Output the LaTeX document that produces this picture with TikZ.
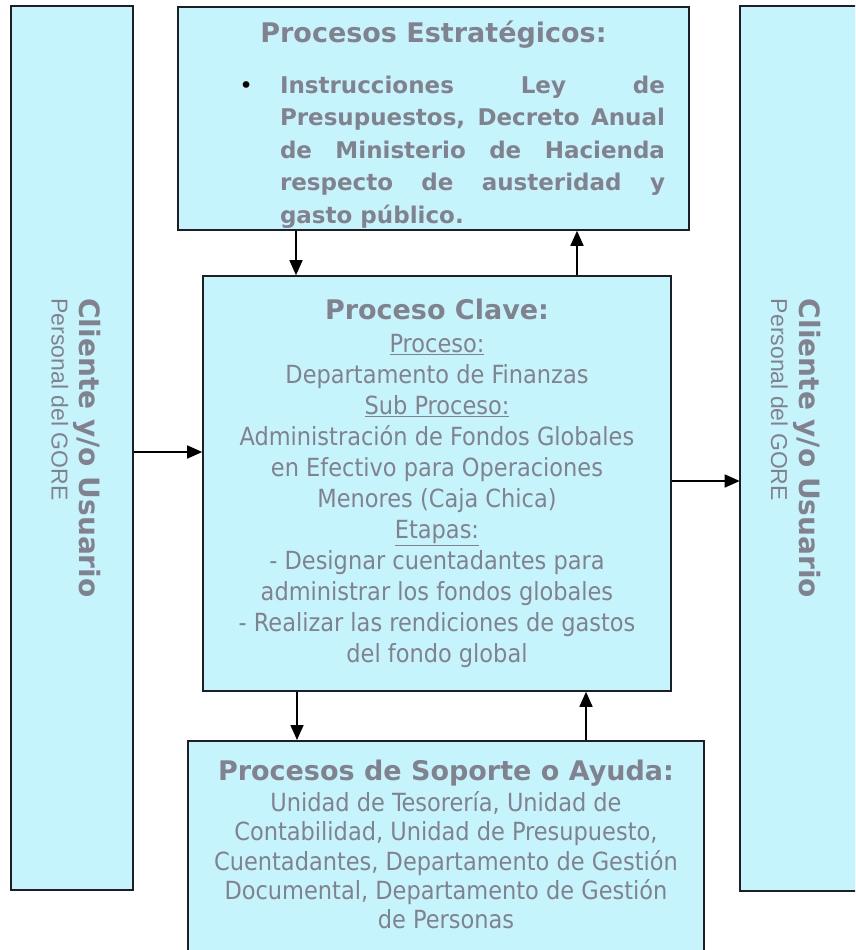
\documentclass[tikz,border=0pt]{standalone}
\usepackage{fontspec}
\usepackage{graphicx}
\usetikzlibrary{arrows.meta}
\setmainfont{DejaVu Sans Condensed}
\newfontfamily\titlefont{DejaVu Sans}
\newfontfamily\sidefont{Liberation Sans}
\definecolor{boxfill}{RGB}{198,244,252}
\definecolor{boxtext}{RGB}{130,130,142}
\definecolor{boxline}{RGB}{30,30,40}
\newcommand{\boxtitle}[1]{{\titlefont\bfseries\fontsize{27}{31}\selectfont #1}}
\newcommand{\sidelabel}{\rotatebox{-90}{\fontsize{23}{28}\selectfont
  \begin{tabular}{@{}l@{}}
  {\titlefont\bfseries\fontsize{28}{28}\selectfont Cliente y/o Usuario}\\
  {\sidefont Personal del GORE}
  \end{tabular}}}
\tikzset{
  procbox/.style={draw=boxline, line width=1.6pt, fill=boxfill, text=boxtext, inner sep=0pt},
  flow/.style={line width=1.6pt, -{Triangle[length=15pt,width=13pt]}}
}
\begin{document}
\begin{tikzpicture}[x=1pt,y=-1pt]
\useasboundingbox (0,0) rectangle (855,950);
\clip (0,0) rectangle (855,950);
% Clientes a ambos lados
\node[procbox, minimum width=122pt, minimum height=884pt] (cliL) at (72,448) {\sidelabel};
\node[procbox, draw=none, minimum width=140pt, minimum height=883pt,
  label={[text=boxtext, xshift=-19pt]center:\sidelabel}] (cliR) at (810.5,448.5) {};
\draw[boxline, line width=1.6pt] (cliR.north east) -- (cliR.north west) -- (cliR.south west) -- (cliR.south east);
% Procesos estrategicos
\node[procbox, minimum width=511pt, minimum height=223pt] (estr) at (433.5,118.5) {%
  \parbox{463pt}{\centering\vspace*{12pt}\boxtitle{Procesos Estratégicos:}\par
  \vspace{18pt}
  \leftskip=78pt\rightskip=0pt\parfillskip=0pt plus 1fil
  \titlefont\bfseries\fontsize{23}{32.5}\selectfont
  \noindent\llap{{\mdseries\color{black}\textbullet}\hspace{27pt}}Instrucciones Ley de\linebreak
  Presupuestos, Decreto Anual\linebreak
  de Ministerio de Hacienda\linebreak
  respecto de austeridad y\linebreak
  gasto público.}};
% Proceso clave
\node[procbox, minimum width=468pt, minimum height=415pt, align=center,
  font=\fontsize{25}{31}\selectfont] (clave) at (437,483.5) {%
  \boxtitle{Proceso Clave:}\\[2pt]
  \underline{Proceso:}\\
  Departamento de Finanzas\\
  \underline{Sub Proceso:}\\
  Administración de Fondos Globales\\
  en Efectivo para Operaciones\\
  Menores (Caja Chica)\\
  \underline{Etapas:}\\
  - Designar cuentadantes para\\
  administrar los fondos globales\\
  - Realizar las rendiciones de gastos\\
  del fondo global};
% Procesos de soporte
\node[procbox, minimum width=516pt, anchor=north] (sop) at (446,740) {%
  \parbox[t][240pt][t]{510pt}{\centering
  \vspace*{19pt}\boxtitle{Procesos de Soporte o Ayuda:}\par
  \vspace{2pt}
  \fontsize{25}{29.3}\selectfont
  Unidad de Tesorería, Unidad de\\
  Contabilidad, Unidad de Presupuesto,\\
  Cuentadantes, Departamento de Gestión\\
  Documental, Departamento de Gestión\\
  de Personas\par}};
% Posiciones de las flechas
\coordinate (xa) at (296,0);
\coordinate (xb) at (577,0);
\coordinate (xc) at (297,0);
\coordinate (xd) at (586,0);
\coordinate (ya) at (0,452);
\coordinate (yb) at (0,481);
% Flechas
\draw[flow] (estr.south -| xa) -- (clave.north -| xa);
\draw[flow] (clave.north -| xb) -- (estr.south -| xb);
\draw[flow] (clave.south -| xc) -- (sop.north -| xc);
\draw[flow] (sop.north -| xd) -- (clave.south -| xd);
\draw[flow] (cliL.east |- ya) -- (clave.west |- ya);
\draw[flow] (clave.east |- yb) -- (cliR.west |- yb);
\end{tikzpicture}
\end{document}
